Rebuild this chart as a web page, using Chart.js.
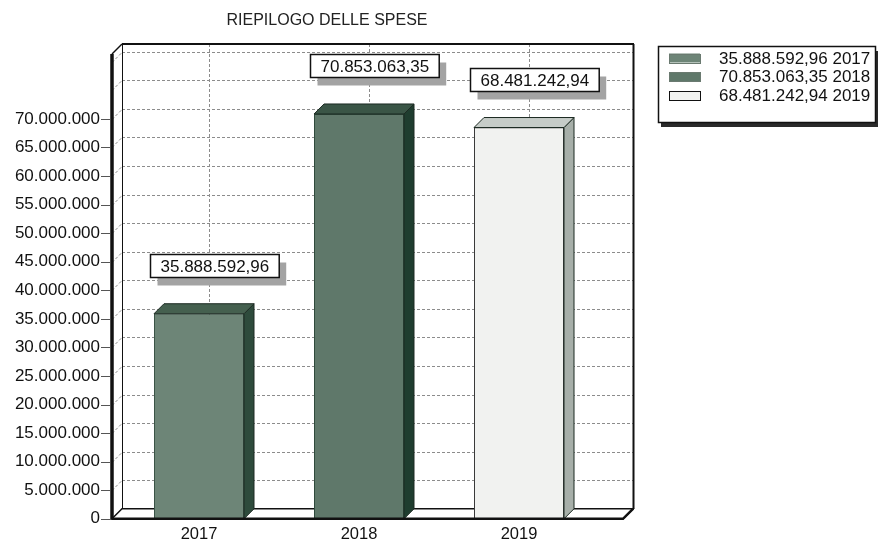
<!DOCTYPE html>
<html>
<head>
<meta charset="utf-8">
<script src="https://cdn.jsdelivr.net/npm/chart.js@4.4.1/dist/chart.umd.min.js"></script>
<style>
  html, body { margin: 0; padding: 0; background: #ffffff; }
  canvas { display: block; }
</style>
</head>
<body>
<canvas id="c" width="884" height="548"></canvas>
<script>
// ---- data ----
const categories = ['2017', '2018', '2019'];
const values = [35888592.96, 70853063.35, 68481242.94];
const chartTitle = 'RIEPILOGO DELLE SPESE';
const yTicks = [0, 5000000, 10000000, 15000000, 20000000, 25000000, 30000000, 35000000,
  40000000, 45000000, 50000000, 55000000, 60000000, 65000000, 70000000, 75000000, 80000000];
const yMax = 81350000;
const yLabelMax = 70000000;

// ---- styles ----
const FONT = '"Liberation Sans", Arial, sans-serif';
const barColors = ['#6d8577', '#5f786a', '#f1f2f0'];
const barBorders = ['#3a5346', '#2f4a3c', '#3a3a3a'];
const sideColors = ['#2e4b3c', '#1f3d2f', '#a7afa9'];
const topColors = ['#45604f', '#3a5546', '#c6ccc8'];
const DEPTH = 10;

function fmtInt(n) {
  return String(Math.round(n)).replace(/\B(?=(\d{3})+(?!\d))/g, '.');
}
function fmtDec(n) {
  const parts = n.toFixed(2).split('.');
  return parts[0].replace(/\B(?=(\d{3})+(?!\d))/g, '.') + ',' + parts[1];
}

const frame3d = {
  id: 'frame3d',
  beforeDatasetsDraw(chart) {
    const { ctx, chartArea: a, scales: { x, y } } = chart;
    const d = DEPTH;
    const FL = a.left - 7, FR = a.right + 24;
    const FB = y.getPixelForValue(0), FT = a.top;
    const BL = FL + d, BR = FR + d, BB = FB - d, BT = FT - d;
    ctx.save();
    ctx.strokeStyle = '#8c8c8c';
    ctx.lineWidth = 1;
    ctx.setLineDash([3, 2]);
    y.ticks.forEach(t => {
      const yy = Math.round(y.getPixelForValue(t.value)) + 0.5;
      ctx.beginPath();
      ctx.moveTo(BL, yy - d);
      ctx.lineTo(BR, yy - d);
      ctx.stroke();
      ctx.beginPath();
      ctx.moveTo(FL, yy);
      ctx.lineTo(BL, yy - d);
      ctx.stroke();
    });
    for (let i = 0; i < categories.length; i++) {
      const xx = Math.round(x.getPixelForValue(i) + d) + 0.5;
      ctx.beginPath();
      ctx.moveTo(xx, BT);
      ctx.lineTo(xx, BB);
      ctx.stroke();
    }
    ctx.setLineDash([]);
    ctx.strokeStyle = '#111';
    ctx.lineWidth = 1;
    ctx.strokeRect(BL + 0.5, BT + 0.5, BR - BL, BB - BT);
    ctx.lineWidth = 2;
    ctx.beginPath();
    ctx.moveTo(BL, BT); ctx.lineTo(BR + 1, BT);
    ctx.moveTo(BR + 0.5, BT); ctx.lineTo(BR + 0.5, BB);
    ctx.stroke();
    ctx.fillStyle = '#ffffff';
    ctx.beginPath();
    ctx.moveTo(FL, FB); ctx.lineTo(FR, FB); ctx.lineTo(BR, BB); ctx.lineTo(BL, BB); ctx.closePath();
    ctx.fill();
    ctx.lineWidth = 1.5;
    ctx.stroke();
    ctx.lineWidth = 3.5;
    ctx.beginPath();
    ctx.moveTo(FL, FB + 1); ctx.lineTo(FL, FT);
    ctx.stroke();
    ctx.lineWidth = 1.5;
    ctx.beginPath();
    ctx.moveTo(FL, FT); ctx.lineTo(BL, BT);
    ctx.stroke();
    ctx.strokeStyle = '#555';
    ctx.lineWidth = 1;
    y.ticks.forEach(t => {
      if (t.value > yLabelMax) return;
      const yy = Math.round(y.getPixelForValue(t.value)) + 0.5;
      ctx.beginPath();
      ctx.moveTo(FL - 11, yy); ctx.lineTo(FL - 2, yy);
      ctx.stroke();
    });
    ctx.restore();
  },
  afterDatasetsDraw(chart) {
    const { ctx, chartArea: a, scales: { y } } = chart;
    const d = DEPTH;
    const meta = chart.getDatasetMeta(0);
    ctx.save();
    meta.data.forEach((el, i) => {
      const p = el.getProps(['x', 'y', 'width', 'base'], true);
      const l = p.x - p.width / 2, r = p.x + p.width / 2;
      ctx.fillStyle = sideColors[i];
      ctx.strokeStyle = '#1c2a22';
      ctx.lineWidth = 1;
      ctx.beginPath();
      ctx.moveTo(r, p.y); ctx.lineTo(r + d, p.y - d); ctx.lineTo(r + d, p.base - d); ctx.lineTo(r, p.base); ctx.closePath();
      ctx.fill(); ctx.stroke();
      ctx.fillStyle = topColors[i];
      ctx.beginPath();
      ctx.moveTo(l, p.y); ctx.lineTo(l + d, p.y - d); ctx.lineTo(r + d, p.y - d); ctx.lineTo(r, p.y); ctx.closePath();
      ctx.fill(); ctx.stroke();
    });
    const FL = a.left - 7, FR = a.right + 24, FB = y.getPixelForValue(0);
    ctx.strokeStyle = '#111';
    ctx.lineWidth = 2.5;
    ctx.beginPath();
    ctx.moveTo(FL, FB); ctx.lineTo(FR, FB); ctx.lineTo(FR + d, FB - d);
    ctx.stroke();
    ctx.font = '17px ' + FONT;
    ctx.textAlign = 'center';
    ctx.textBaseline = 'middle';
    meta.data.forEach((el, i) => {
      const p = el.getProps(['x', 'y'], true);
      const txt = fmtDec(values[i]);
      const w = ctx.measureText(txt).width + 20, h = 23;
      const cx = p.x + 15, cy = p.y - 48;
      const bx = Math.round(cx - w / 2) + 0.5, by = Math.round(cy - h / 2) + 0.5;
      ctx.fillStyle = '#a3a3a3';
      ctx.fillRect(bx + 7, by + 8, w, h);
      ctx.fillStyle = '#ffffff';
      ctx.fillRect(bx, by, w, h);
      ctx.strokeStyle = '#111';
      ctx.lineWidth = 1.5;
      ctx.strokeRect(bx, by, w, h);
      ctx.fillStyle = '#111';
      ctx.fillText(txt, bx + w / 2, by + h / 2 + 1);
    });
    ctx.restore();
  },
  afterDraw(chart) {
    const { ctx } = chart;
    ctx.save();
    ctx.font = '16px ' + FONT;
    ctx.fillStyle = '#222';
    ctx.textAlign = 'center';
    ctx.textBaseline = 'middle';
    ctx.fillText(chartTitle, 327, 21);
    const lx = 658, ly = 46, lw = 217, lh = 76;
    ctx.fillStyle = '#2a2a2a';
    ctx.fillRect(lx + 3, ly + 5, lw, lh);
    ctx.fillStyle = '#ffffff';
    ctx.fillRect(lx, ly, lw, lh);
    ctx.strokeStyle = '#111';
    ctx.lineWidth = 1.5;
    ctx.strokeRect(lx + 0.5, ly + 0.5, lw, lh);
    ctx.font = '17px ' + FONT;
    ctx.textAlign = 'left';
    categories.forEach((c, i) => {
      const ry = 58 + i * 18.7;
      ctx.fillStyle = barColors[i];
      ctx.fillRect(669, ry - 4.5, 31, 9);
      ctx.strokeStyle = i === 2 ? '#111' : '#6a7a70';
      ctx.lineWidth = 1;
      ctx.strokeRect(669.5, Math.round(ry - 4.5) + 0.5, 31, 9);
      ctx.fillStyle = '#111';
      ctx.fillText(fmtDec(values[i]) + ' ' + c, 719, ry + 1);
    });
    ctx.restore();
  }
};

new Chart(document.getElementById('c'), {
  type: 'bar',
  data: {
    labels: categories,
    datasets: [{
      data: values,
      backgroundColor: barColors,
      borderColor: barBorders,
      borderWidth: 1,
      barPercentage: 0.5625,
      categoryPercentage: 1
    }]
  },
  options: {
    responsive: false,
    animation: false,
    layout: { padding: { left: 0, right: 285, top: 54, bottom: 0 } },
    plugins: { legend: { display: false }, tooltip: { enabled: false } },
    scales: {
      x: {
        grid: { display: false, drawTicks: false },
        border: { display: false },
        ticks: { font: { size: 16.5, family: FONT }, color: '#111', padding: 6 },
        afterFit(s) { s.height = 28; }
      },
      y: {
        min: 0,
        max: yMax,
        grid: { display: false, drawTicks: false },
        border: { display: false },
        afterBuildTicks(s) { s.ticks = yTicks.map(v => ({ value: v })); },
        ticks: {
          padding: 19,
          font: { size: 17, family: FONT },
          color: '#111',
          callback: v => (v > yLabelMax ? '' : fmtInt(v))
        },
        afterFit(s) { s.width = 119; }
      }
    }
  },
  plugins: [frame3d]
});
</script>
</body>
</html>
